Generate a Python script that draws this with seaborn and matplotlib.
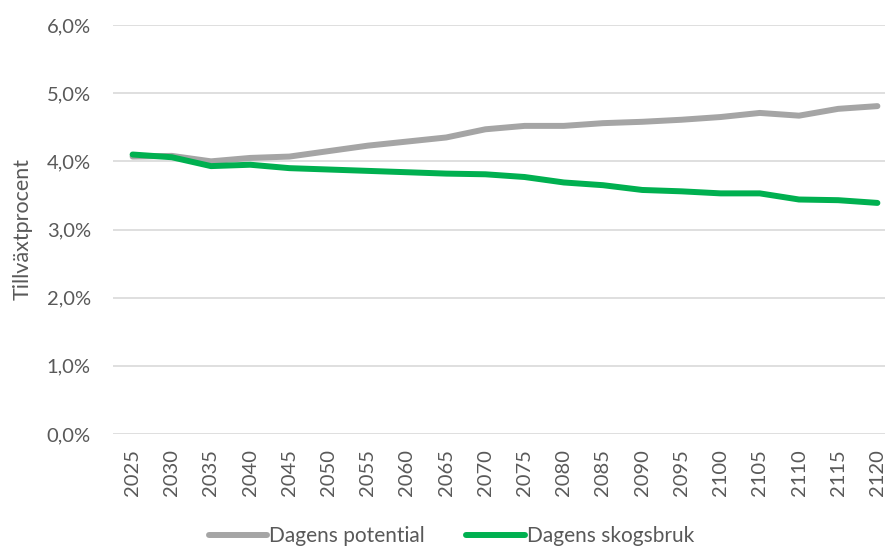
#!/usr/bin/env python3
"""
Tillväxtprocent: Dagens potential vs Dagens skogsbruk.
"""
import matplotlib
matplotlib.use('Agg')
import matplotlib.pyplot as plt
import matplotlib.ticker as mticker
import seaborn as sns
import pandas as pd

years = [2025, 2030, 2035, 2040, 2045, 2050, 2055, 2060, 2065, 2070,
         2075, 2080, 2085, 2090, 2095, 2100, 2105, 2110, 2115, 2120]
potential = [4.07, 4.08, 4.00, 4.05, 4.07, 4.15, 4.23, 4.29, 4.35, 4.47,
             4.52, 4.52, 4.56, 4.58, 4.61, 4.65, 4.71, 4.67, 4.77, 4.81]
skogsbruk = [4.10, 4.06, 3.93, 3.95, 3.90, 3.88, 3.86, 3.84, 3.82, 3.81,
             3.77, 3.69, 3.65, 3.58, 3.56, 3.53, 3.53, 3.44, 3.43, 3.39]
series_names = ['Dagens potential', 'Dagens skogsbruk']
colors = {'Dagens potential': '#A5A5A5', 'Dagens skogsbruk': '#00B050'}

TEXT = '#595959'

df = pd.DataFrame({
    'year': years * 2,
    'value': potential + skogsbruk,
    'series': [series_names[0]] * len(years) + [series_names[1]] * len(years),
})

sns.set_style('white')
plt.rcParams['font.family'] = ['Lato', 'DejaVu Sans']

fig = plt.figure(figsize=(8.85, 5.48), dpi=100)
ax = fig.add_axes([113 / 885, 1 - 434 / 548, 784 / 885, 409 / 548])

sns.lineplot(data=df, x='year', y='value', hue='series', palette=colors,
             linewidth=4.3, ax=ax, sort=False)

ax.set_xlim(2022.5, 2122.5)
ax.set_ylim(0, 6)
ax.set_xticks(years)
ax.set_xticklabels([str(y) for y in years], rotation=90)
ax.set_yticks([0, 1, 2, 3, 4, 5, 6])
ax.yaxis.set_major_formatter(mticker.FuncFormatter(lambda v, p: f'{v:.1f}%'.replace('.', ',')))
ax.grid(True, axis='y', color='#D9D9D9', linewidth=1.2)
ax.set_axisbelow(True)
for s in ax.spines.values():
    s.set_visible(False)
ax.tick_params(axis='both', length=0, labelsize=14.5, colors=TEXT)
ax.tick_params(axis='y', pad=16)
ax.tick_params(axis='x', pad=11)
ax.set_xlabel('')
ax.set_ylabel('Tillväxtprocent', fontsize=15.5, color=TEXT, labelpad=10)

ax.get_legend().remove()
handles, labels = ax.get_legend_handles_labels()
fig.legend(handles, labels, loc='center', bbox_to_anchor=(0.51, 0.022), ncol=2,
           frameon=False, fontsize=15, labelcolor=TEXT, handlelength=2.8,
           handletextpad=0.1, columnspacing=2.0)

fig.savefig('out.png', dpi=100)
